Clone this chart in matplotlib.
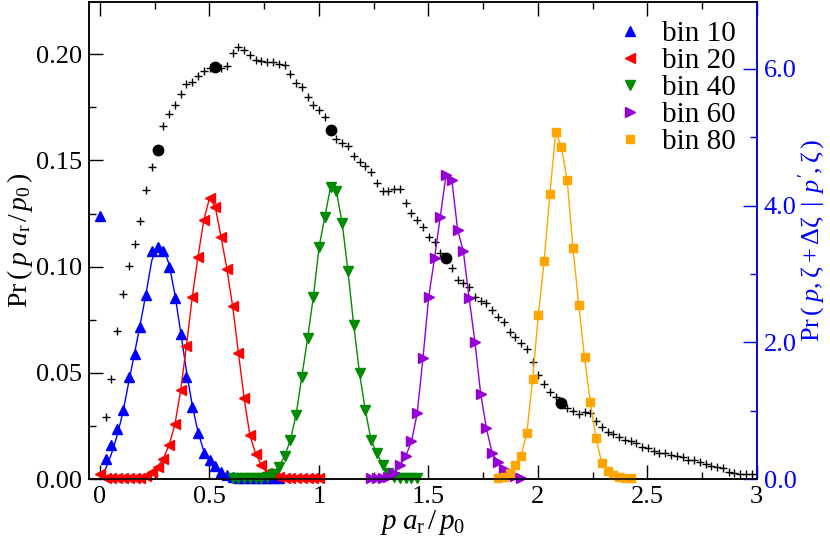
import numpy as np
import matplotlib
matplotlib.use("Agg")
from matplotlib import pyplot as plt
from matplotlib import font_manager
from matplotlib.ticker import MultipleLocator, FormatStrFormatter

#Pick a Times-like serif that is actually installed
serif = "DejaVu Serif"
for name in ["Liberation Serif", "Nimbus Roman", "Times New Roman", "STIXGeneral"]:
    try:
        font_manager.findfont(font_manager.FontProperties(family=name), fallback_to_default=False)
        serif = name
        break
    except Exception:
        pass
plt.rcParams['font.family'] = serif
plt.rcParams['mathtext.fontset'] = 'custom'
plt.rcParams['mathtext.rm'] = serif
plt.rcParams['mathtext.it'] = serif + ':italic'

#bin spacing of the histogram grid (in p a_r / p_0)
bin_width = 0.02635

#marginal Pr(p a_r/p_0), bins 1..113 (left axis)
marginal = [0.0291, 0.0471, 0.0698, 0.0871, 0.1003, 0.1105, 0.1217, 0.1359, 0.1471, 0.1549,
            0.1661, 0.1719, 0.1761, 0.1813, 0.1861, 0.1867, 0.1898, 0.1922, 0.1934, 0.1939,
            0.1934, 0.1946, 0.2004, 0.2033, 0.2020, 0.1997, 0.1974, 0.1967, 0.1965, 0.1965,
            0.1954, 0.1949, 0.1906, 0.1864, 0.1847, 0.1801, 0.1761, 0.1738, 0.1703, 0.1644,
            0.1603, 0.1581, 0.1569, 0.1522, 0.1491, 0.1473, 0.1447, 0.1392, 0.1357, 0.1355,
            0.1367, 0.1364, 0.1301, 0.1251, 0.1220, 0.1185, 0.1141, 0.1118, 0.1066, 0.1042,
            0.0995, 0.0937, 0.0922, 0.0906, 0.0859, 0.0838, 0.0827, 0.0796, 0.0764, 0.0741,
            0.0694, 0.0668, 0.0639, 0.0611, 0.0553, 0.0489, 0.0448, 0.0409, 0.0388, 0.0359,
            0.0333, 0.0320, 0.0305, 0.0317, 0.0309, 0.0275, 0.0243, 0.0223, 0.0211, 0.0200,
            0.0183, 0.0180, 0.0168, 0.0153, 0.0145, 0.0133, 0.0124, 0.0121, 0.0113, 0.0108,
            0.0105, 0.0090, 0.0090, 0.0082, 0.0069, 0.0061, 0.0058, 0.0050, 0.0035, 0.0027,
            0.0024, 0.0024, 0.0024]
marked_bins = [10, 20, 40, 60, 80]

#conditional distributions (right axis): first bin index and values
bin10_start = 0
bin10 = [3.85, 0.29, 0.50, 0.73, 1.01, 1.50, 1.83, 2.23, 2.69, 3.33, 3.39, 3.34, 3.10, 2.65,
         2.12, 1.50, 1.05, 0.67, 0.385, 0.278, 0.19, 0.107, 0.054, 0.03, 0.02, 0.02, 0.02,
         0.02, 0.02, 0.02, 0.02, 0.02]
bin10_fit = [0.0, 0.15, 0.37, 0.64, 0.98, 1.42, 1.84, 2.27, 2.72, 3.20, 3.40, 3.38, 3.14, 2.70,
             2.15, 1.58, 1.08, 0.69, 0.41, 0.25, 0.15, 0.08, 0.04, 0.02, 0.01, 0.0, 0.0,
             0.0, 0.0, 0.0, 0.0, 0.0]
bin20_start = 0
bin20 = [0.08, 0.02, 0.02, 0.02, 0.02, 0.02, 0.02, 0.02, 0.05, 0.10, 0.18, 0.30, 0.50, 0.80,
         1.30, 1.95, 2.66, 3.25, 3.79, 4.11, 3.98, 3.54, 3.08, 2.53, 1.85, 1.18, 0.64, 0.37,
         0.205, 0.09, 0.06, 0.03, 0.02, 0.02, 0.02, 0.02, 0.02, 0.02, 0.02]
bin40_start = 23
bin40 = [0.02, 0.02, 0.02, 0.02, 0.02, 0.02, 0.03, 0.08, 0.18, 0.33, 0.57, 0.94, 1.50, 2.06,
         2.67, 3.40, 3.84, 4.28, 4.21, 3.74, 3.04, 2.25, 1.55, 1.01, 0.57, 0.376, 0.205,
         0.09, 0.03, 0.02, 0.02, 0.02, 0.02]
bin60_start = 47
bin60 = [0.02, 0.02, 0.02, 0.03, 0.09, 0.205, 0.33, 0.55, 0.96, 1.77, 2.67, 3.23, 3.84, 4.45,
         4.38, 3.65, 3.33, 2.65, 2.01, 1.25, 0.74, 0.376, 0.25, 0.14, 0.09, 0.05, 0.02]
bin80_start = 69
bin80 = [0.02, 0.03, 0.09, 0.205, 0.34, 0.67, 1.46, 2.40, 3.19, 4.17, 5.08, 4.86, 4.37, 3.38,
         2.55, 1.78, 1.13, 0.60, 0.23, 0.12, 0.06, 0.03, 0.02, 0.02]

series = [("bin 10", bin10_start, bin10, "#0000ff", "^"),
          ("bin 20", bin20_start, bin20, "#ff0000", "<"),
          ("bin 40", bin40_start, bin40, "#008b00", "v"),
          ("bin 60", bin60_start, bin60, "#9400d3", ">"),
          ("bin 80", bin80_start, bin80, "#ffa500", "s")]

fig = plt.figure(figsize=(8.3, 5.42), dpi=100)
fig.subplots_adjust(left=0.1072, right=0.9117, bottom=0.1162, top=0.9963)
ax = fig.add_subplot(111)
ax2 = ax.twinx()

#Black histogram and highlighted bins
k = np.arange(1, len(marginal) + 1)
ax.plot(k*bin_width, marginal, "k+", ms=6, mew=1.0, clip_on=False)
sel = np.array(marked_bins)
ax.plot(sel*bin_width, np.array(marginal)[sel - 1], "ko", ms=7.5, clip_on=False)

#Conditional distributions
for label, start, vals, color, mk in series:
    x = (start + np.arange(len(vals)))*bin_width
    if label == "bin 10":
        ax2.plot(x, bin10_fit, "-", color=color, lw=1.0)
    else:
        ax2.plot(x, vals, "-", color=color, lw=1.0)
    ax2.plot(x, vals, mk, color=color, ms=6.5 if mk != "s" else 5.5, ls="none",
             label=label, clip_on=False)

ax.set_xlim(-0.05, 3)
ax.set_ylim(0, 0.2246)
ax2.set_ylim(0, 6.98)

ax.set_xticks([0, 0.5, 1, 1.5, 2, 2.5, 3])
ax.set_xticklabels(["0", "0.5", "1", "1.5", "2", "2.5", "3"])
ax.xaxis.set_minor_locator(MultipleLocator(0.25))
ax.set_yticks([0, 0.05, 0.10, 0.15, 0.20])
ax.yaxis.set_major_formatter(FormatStrFormatter("%.2f"))
ax.yaxis.set_minor_locator(MultipleLocator(0.025))
ax.tick_params(which="both", direction="in", top=True, right=False, width=1.0,
               labelsize=19, pad=5)
ax.tick_params(which="major", length=10)
ax.tick_params(which="minor", length=5)

ax2.set_yticks([0, 2, 4, 6])
ax2.yaxis.set_major_formatter(FormatStrFormatter("%.1f"))
ax2.yaxis.set_minor_locator(MultipleLocator(1))
ax2.tick_params(which="both", direction="in", colors="blue", width=1.0, labelsize=19, pad=5)
ax2.tick_params(which="major", length=10)
ax2.tick_params(which="minor", length=5)
ax2.spines["right"].set_color("blue")
for a in (ax, ax2):
    for s in a.spines.values():
        s.set_linewidth(1.1)

ax.set_xlabel(r"$p\;a_{\mathrm{r}}\,/\,p_0$", fontsize=21, labelpad=0)
ax.set_ylabel(r"$\mathrm{Pr}\,(\;p\;a_{\mathrm{r}}\,/\,p_0\,)$", fontsize=20, labelpad=1)
ax2.set_ylabel(r"$\mathrm{Pr}\,(\;p,\mathrm{\zeta}+\Delta\mathrm{\zeta}\ \,|\ \,p',\mathrm{\zeta}\,)$",
               fontsize=19, color="blue", labelpad=0)

ax2.legend(loc="upper right", frameon=False, fontsize=21, labelspacing=0.02,
           handlelength=0.8, handletextpad=0.7, borderaxespad=0.0,
           bbox_to_anchor=(0.986, 0.985))

plt.savefig("out.png", dpi=100)
